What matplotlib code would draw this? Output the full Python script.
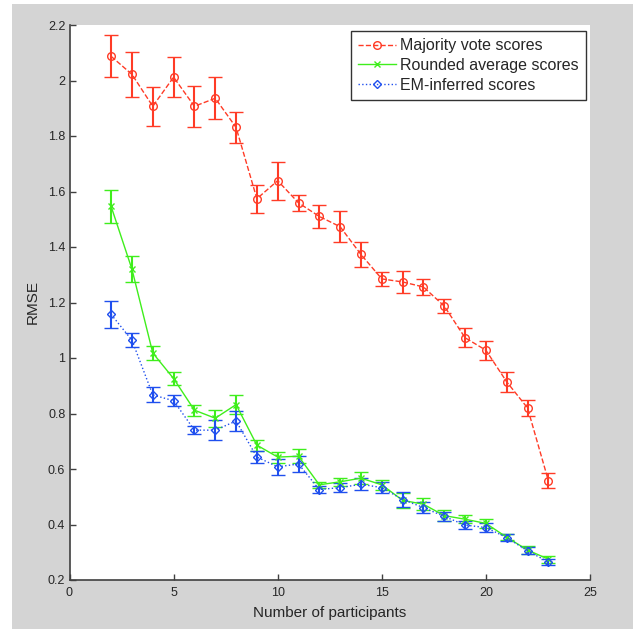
import numpy as np
import matplotlib
matplotlib.use('Agg')
import matplotlib.pyplot as plt
from matplotlib.patches import Rectangle
from matplotlib.lines import Line2D

plt.rcParams['font.family'] = ['Liberation Sans', 'DejaVu Sans']

# number of participants
participants = list(range(2, 24))

# RMSE per method, with error bar half-widths
majority_rmse = [2.087, 2.022, 1.907, 2.012, 1.907, 1.936, 1.831, 1.574, 1.639, 1.559, 1.510,
                 1.473, 1.373, 1.285, 1.274, 1.256, 1.187, 1.073, 1.028, 0.914, 0.820, 0.558]
majority_err = [0.076, 0.081, 0.070, 0.072, 0.074, 0.075, 0.057, 0.050, 0.069, 0.030, 0.041,
                0.055, 0.046, 0.026, 0.039, 0.030, 0.025, 0.034, 0.035, 0.036, 0.030, 0.026]

rounded_rmse = [1.546, 1.320, 1.018, 0.926, 0.812, 0.783, 0.832, 0.686, 0.643, 0.646, 0.543,
                0.554, 0.567, 0.543, 0.487, 0.473, 0.432, 0.419, 0.404, 0.354, 0.308, 0.275]
rounded_err = [0.060, 0.046, 0.027, 0.024, 0.020, 0.030, 0.033, 0.020, 0.020, 0.025, 0.010,
               0.014, 0.022, 0.019, 0.027, 0.022, 0.019, 0.015, 0.017, 0.010, 0.013, 0.012]

em_rmse = [1.157, 1.064, 0.867, 0.846, 0.740, 0.740, 0.773, 0.643, 0.608, 0.618, 0.526,
           0.533, 0.545, 0.533, 0.490, 0.461, 0.429, 0.398, 0.389, 0.353, 0.305, 0.265]
em_err = [0.048, 0.026, 0.027, 0.020, 0.014, 0.035, 0.035, 0.022, 0.028, 0.029, 0.013,
          0.017, 0.022, 0.019, 0.027, 0.019, 0.016, 0.016, 0.017, 0.011, 0.013, 0.010]

labels = ['Majority vote scores', 'Rounded average scores', 'EM-inferred scores']

W, H = 633, 629
fig = plt.figure(figsize=(W / 100, H / 100), dpi=100, facecolor='#d4d4d4')
# thin white strips on top and left edge
fig.patches.append(Rectangle((0, 0), 12 / W, 1, transform=fig.transFigure,
                             facecolor='white', edgecolor='none', zorder=-1))
fig.patches.append(Rectangle((0, 1 - 4 / H), 1, 4 / H, transform=fig.transFigure,
                             facecolor='white', edgecolor='none', zorder=-1))

ax = fig.add_axes([69.5 / W, 1 - 580 / H, (590 - 69.5) / W, (580 - 25) / H])
ax.set_facecolor('white')

red, green, blue = '#ff3b26', '#3fee1c', '#1f4fee'
styles = [
    dict(color=red, ls='--', marker='o', ms=5.5, mfc='none'),
    dict(color=green, ls='-', marker='x', ms=4.5),
    dict(color=blue, ls=':', marker='D', ms=4, mfc='none'),
]
series = [(majority_rmse, majority_err), (rounded_rmse, rounded_err), (em_rmse, em_err)]

handles = []
for (vals, errs), st, lab in zip(series, styles, labels):
    ax.errorbar(participants, vals, yerr=errs, lw=1, mew=1, elinewidth=1.5,
                capsize=5, capthick=1.5, **st)
    handles.append(Line2D([], [], lw=1, mew=1, label=lab, **st))

ax.set_xlim(0, 25)
ax.set_ylim(0.2, 2.2)
ax.set_xticks(np.arange(0, 26, 5))
yt = np.round(np.arange(0.2, 2.21, 0.2), 1)
ax.set_yticks(yt)
ax.set_yticklabels([('%g' % v) for v in yt])

for s in ['top', 'right']:
    ax.spines[s].set_visible(False)
for s in ['left', 'bottom']:
    ax.spines[s].set_color('#404040')
    ax.spines[s].set_linewidth(1.2)
ax.tick_params(direction='in', length=4, width=1, color='#404040',
               labelsize=9, labelcolor='#262626', pad=3)
ax.tick_params(axis='x', pad=5)

ax.set_xlabel('Number of participants', fontsize=11, color='#262626', labelpad=5)
ax.set_ylabel('RMSE', fontsize=11, color='#262626', labelpad=6)

leg = ax.legend(handles=handles, loc='upper right', bbox_to_anchor=(0.992, 0.989),
                borderaxespad=0, fontsize=11.5, frameon=True, fancybox=False,
                handlelength=2.4, handletextpad=0.25, labelspacing=0.3, borderpad=0.45)
leg.get_frame().set_edgecolor('black')
leg.get_frame().set_linewidth(1)
for t in leg.get_texts():
    t.set_color('#262626')

fig.savefig('out.png', dpi=100, facecolor=fig.get_facecolor())
